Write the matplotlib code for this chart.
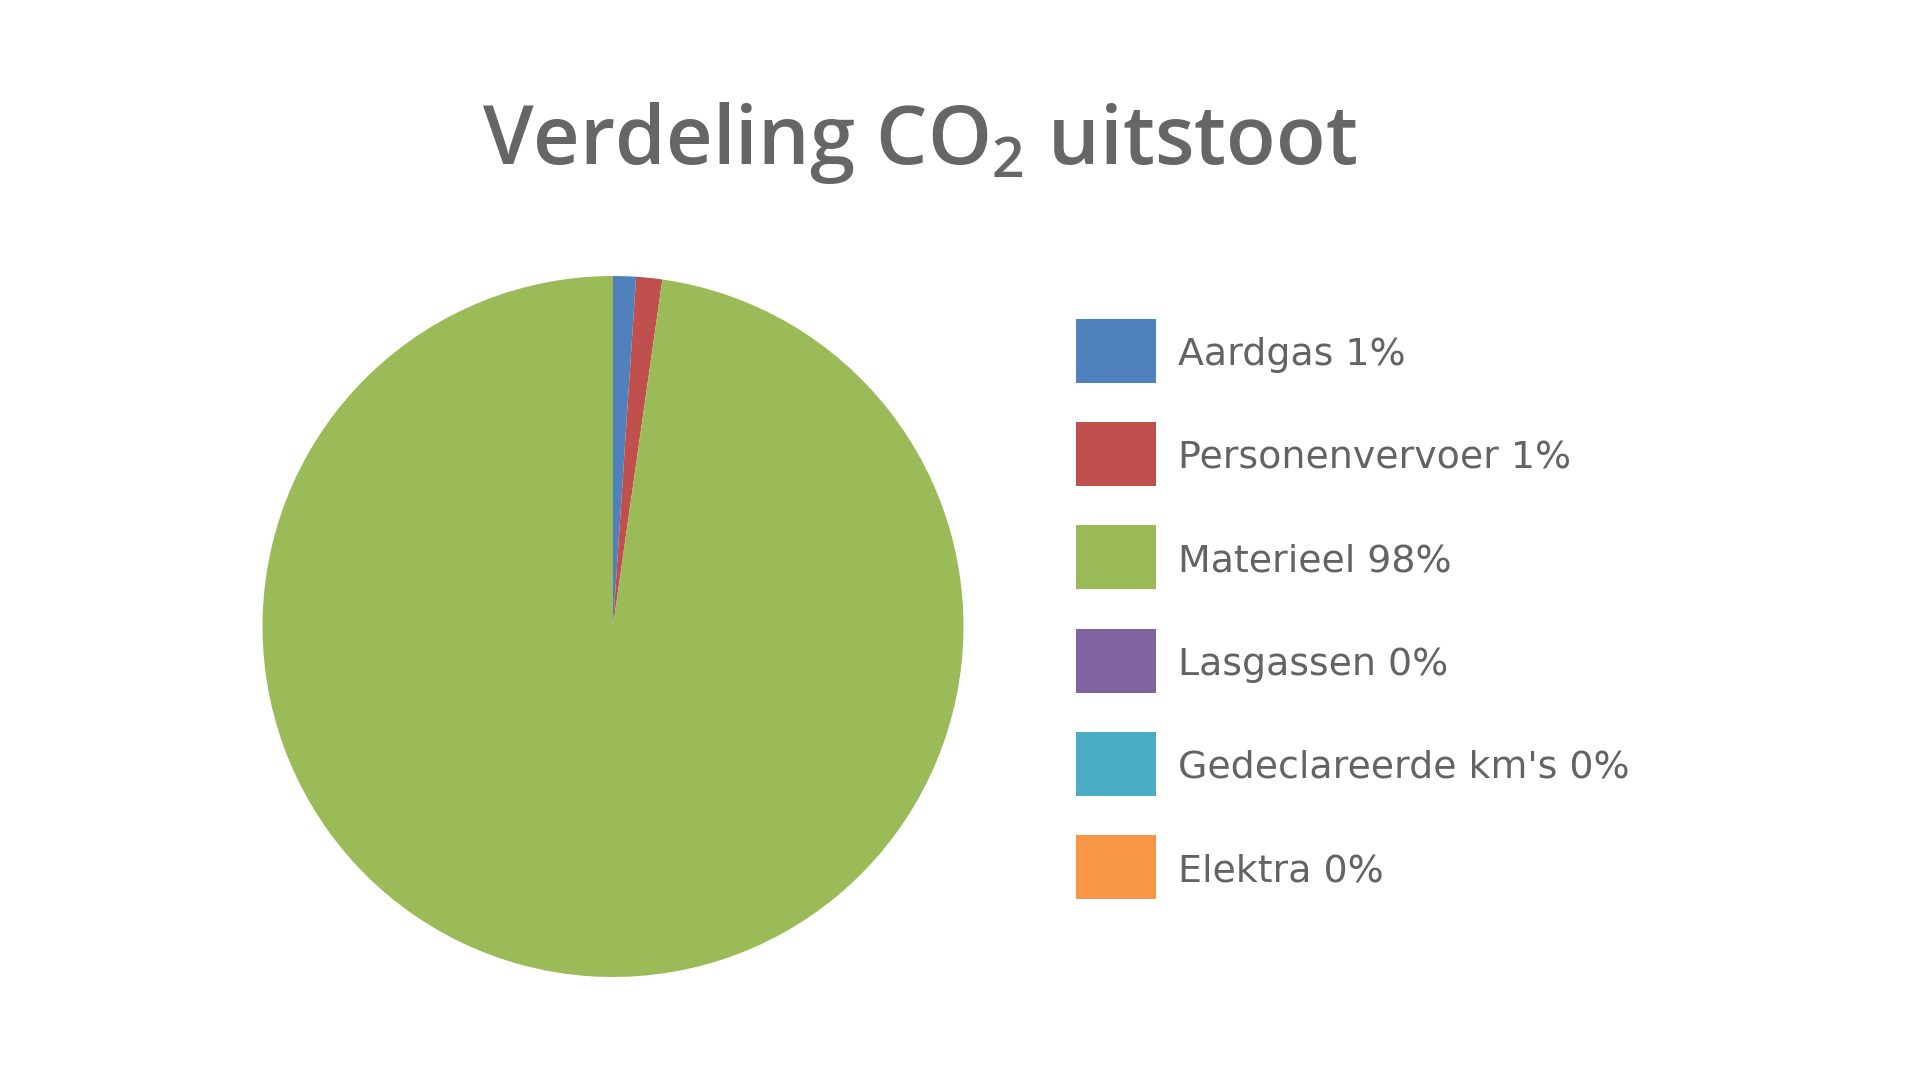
import matplotlib

matplotlib.use("Agg")
import matplotlib.pyplot as plt
from matplotlib.patches import Rectangle

labels = ["Aardgas", "Personenvervoer", "Materieel", "Lasgassen", "Gedeclareerde km's", "Elektra"]
shares = [1.05, 1.2, 97.75, 0.0, 0.0, 0.0]
shown_pct = ["1%", "1%", "98%", "0%", "0%", "0%"]
colors = ["#4F81BD", "#C0504D", "#9BBB59", "#8064A2", "#4BACC6", "#F79646"]

W, H = 1920, 1080
fig = plt.figure(figsize=(W / 100, H / 100), dpi=100)
fig.patch.set_facecolor("white")

# pie: centre and radius in pixels
cx, cy, r = 613.0, 626.5, 350.5
ax = fig.add_axes([(cx - r) / W, (H - cy - r) / H, 2 * r / W, 2 * r / H])
ax.pie(
    shares,
    colors=colors,
    startangle=90,
    counterclock=False,
    radius=1.0,
    wedgeprops={"linewidth": 0},
)
ax.set_xlim(-1, 1)
ax.set_ylim(-1, 1)
ax.set_aspect("equal")
ax.axis("off")

fig.text(
    920 / W,
    1 - 164 / H,
    r"Verdeling CO$_\mathregular{2}$ uitstoot",
    ha="center",
    va="baseline",
    fontsize=58.6,
    fontweight="semibold",
    family="Open Sans",
    color="#666666",
)

# legend, drawn by hand
box_x, box_w, box_h = 1076, 80, 64
row0, step = 351, 103.2
for i, (lab, pct, col) in enumerate(zip(labels, shown_pct, colors)):
    yc = row0 + i * step
    fig.add_artist(
        Rectangle(
            (box_x / W, 1 - (yc + box_h / 2) / H),
            box_w / W,
            box_h / H,
            transform=fig.transFigure,
            facecolor=col,
            edgecolor="none",
        )
    )
    fig.text(
        1178 / W,
        1 - yc / H,
        f"{lab} {pct}",
        ha="left",
        va="center_baseline",
        fontsize=27.3,
        family="DejaVu Sans",
        color="#636363",
    )

fig.savefig("out.png", dpi=100, facecolor="white")
